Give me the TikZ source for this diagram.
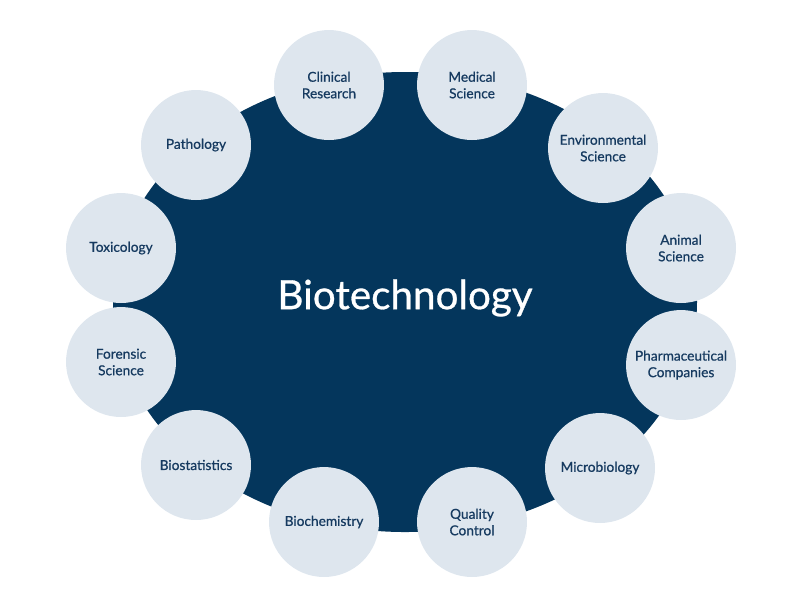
\documentclass[tikz,border=0pt]{standalone}
\usepackage{fontspec}
\setmainfont{Lato}
\newfontfamily\medfont{Lato}[FakeBold=0.7]
\usetikzlibrary{positioning}
\definecolor{navy}{RGB}{4,54,92}
\definecolor{pale}{RGB}{222,230,238}
\definecolor{ink}{RGB}{22,58,96}
\tikzset{field/.style={circle,fill=pale,minimum size=2.2cm,inner sep=0pt,align=center,font=\medfont\fontsize{7.8}{9.4}\selectfont,text=ink}}

\begin{document}
\begin{tikzpicture}[x=0.02cm,y=-0.02cm]
	\useasboundingbox (0,0) rectangle (800,600);
	\fill[navy] (405,302) ellipse [x radius=292,y radius=230];
	\node[text=white,font=\medfont\fontsize{23}{26}\selectfont] (bio) at (405,298) {Biotechnology};

			\node[field] (clin) at (329,85) {Clinical\\Research};
			\node[field] (med) at (472,85) {Medical\\Science};
			\node[field] (env) at (603,148) {Environmental\\Science};
			\node[field] (ani) at (681,248) {Animal\\Science};
			\node[field] (pha) at (681,365) {Pharmaceutical\\Companies};
			\node[field] (mic) at (600,468) {Microbiology};
			\node[field] (qua) at (472,522) {Quality\\Control};
			\node[field] (bch) at (324,522) {Biochemistry};
			\node[field] (bst) at (196,465) {Biostatistics};
			\node[field] (for) at (121,362) {Forensic\\Science};
			\node[field] (tox) at (121,248) {Toxicology};
			\node[field] (pat) at (196,145) {Pathology};
	\end{tikzpicture}
\end{document}
